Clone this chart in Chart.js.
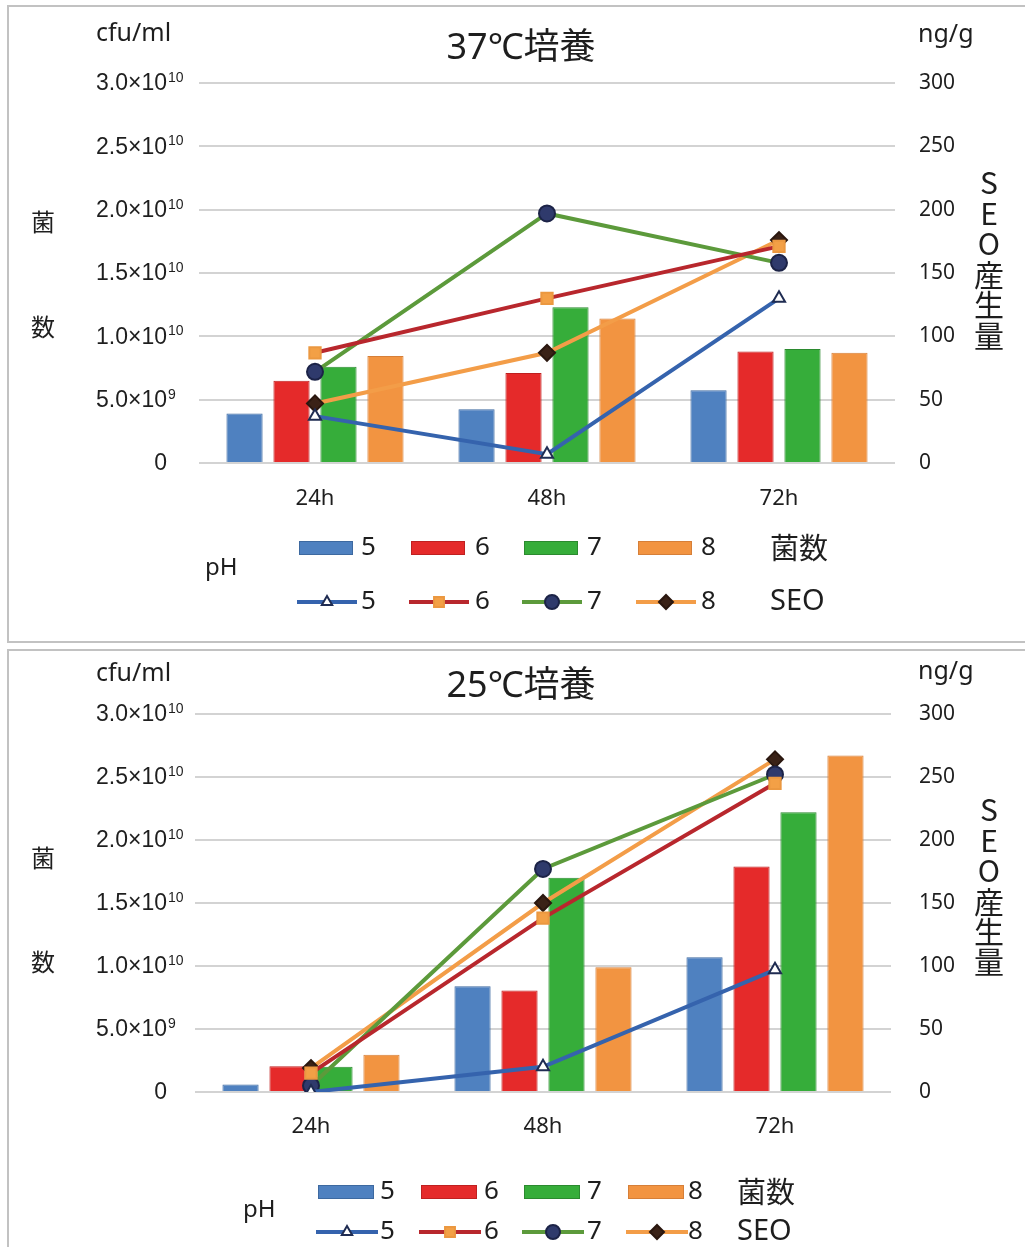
<!DOCTYPE html>
<html>
<head>
<meta charset="utf-8">
<script src="https://cdn.jsdelivr.net/npm/chart.js@4.4.1/dist/chart.umd.min.js"></script>
<style>
  html, body { margin: 0; padding: 0; background: #fff; }
  body { width: 1025px; height: 1247px; position: relative; overflow: hidden; }
  .panel { position: absolute; left: 7px; width: 1040px; border: 2px solid #c2c2c2; box-sizing: border-box; background: #fff; }
  #panelA { top: 5px; height: 638px; }
  #panelB { top: 649px; height: 640px; }
  canvas { position: absolute; left: 0; }
  #chartA { top: 0; }
  #chartB { top: 645px; }
</style>
</head>
<body>
<div class="panel" id="panelA"></div>
<div class="panel" id="panelB"></div>
<canvas id="chartA" width="1025" height="645"></canvas>
<canvas id="chartB" width="1025" height="602"></canvas>
<script>
// ---- data ----
const categories = ['24h', '48h', '72h'];
const phLevels = ['5', '6', '7', '8'];

// cell counts (cfu/ml), 37℃
const cfu37pH5 = [3.9e9, 4.25e9, 5.75e9];
const cfu37pH6 = [6.5e9, 7.1e9, 8.8e9];
const cfu37pH7 = [7.6e9, 12.3e9, 9.0e9];
const cfu37pH8 = [8.45e9, 11.4e9, 8.7e9];
// SEO production (ng/g), 37℃
const seo37pH5 = [37, 7, 130];
const seo37pH6 = [87, 130, 171];
const seo37pH7 = [72, 197, 158];
const seo37pH8 = [47, 87, 176];

// cell counts (cfu/ml), 25℃
const cfu25pH5 = [0.6e9, 8.4e9, 10.7e9];
const cfu25pH6 = [2.05e9, 8.05e9, 17.9e9];
const cfu25pH7 = [2.0e9, 17.0e9, 22.2e9];
const cfu25pH8 = [2.95e9, 9.9e9, 26.7e9];
// SEO production (ng/g), 25℃
const seo25pH5 = [0, 20, 97];
const seo25pH6 = [15, 138, 245];
const seo25pH7 = [5, 177, 252];
const seo25pH8 = [19, 150, 264];

// left axis tick labels: mantissa part and superscript exponent
const cfuTickBase = ['0', '5.0×10', '1.0×10', '1.5×10', '2.0×10', '2.5×10', '3.0×10'];
const cfuTickExp  = ['', '9', '10', '10', '10', '10', '10'];

// ---- styles ----
const barFill   = ['#4f81c0', '#e52a2a', '#36ad3a', '#f29441'];
const barEdge   = ['#3d69a0', '#bf2020', '#2b8a2f', '#d67f38'];
const lineColor = ['#3563ad', '#b8272d', '#5c9a3b', '#f39d48'];
const markStyle = ['triangle', 'rect', 'circle', 'rectRot'];
const markFill  = ['#ffffff', '#f3a046', '#2f3a6c', '#3a2217'];
const markEdge  = ['#1f2c52', '#eb9840', '#1c2347', '#2a170f'];
const markRad   = [7, 8, 8, 8];

const SANS = '"Noto Sans", "Noto Sans CJK JP", sans-serif';
const CJK = '"Noto Sans CJK JP", "Noto Sans", sans-serif';
const TICK = '"Liberation Sans", Arial, sans-serif';
const TXT = '#1e1e1e';

function datasets(cfu, seo) {
  const out = [];
  seo.forEach((vals, i) => out.push({
    type: 'line', label: 'SEO ' + phLevels[i], data: vals, yAxisID: 'y2', order: 0,
    borderColor: lineColor[i], borderWidth: 4, tension: 0,
    pointStyle: markStyle[i], pointRadius: markRad[i], pointBorderWidth: 2,
    pointBackgroundColor: markFill[i], pointBorderColor: markEdge[i]
  }));
  cfu.forEach((vals, i) => out.push({
    type: 'bar', label: '菌数 ' + phLevels[i], data: vals, yAxisID: 'y', order: 1,
    backgroundColor: barFill[i], borderColor: barEdge[i], borderWidth: 1,
    categoryPercentage: 0.81, barPercentage: 0.77
  }));
  return out;
}

// axis titles, title, custom left ticks and legend
const decor = {
  id: 'decor',
  afterDraw(chart, args, o) {
    const ctx = chart.ctx;
    ctx.save();
    ctx.fillStyle = TXT;
    ctx.textBaseline = 'middle';

    // left tick labels with superscript exponents
    const ys = chart.scales.y;
    ctx.font = '23px ' + TICK;
    const refW = ctx.measureText(cfuTickBase[cfuTickBase.length - 1]).width;
    const right = o.tickLeft + refW;
    ys.ticks.forEach((t, i) => {
      const y = ys.getPixelForValue(t.value) + 1;
      ctx.font = '23px ' + TICK;
      ctx.textAlign = 'right';
      ctx.fillText(cfuTickBase[i], right, y);
      if (cfuTickExp[i]) {
        ctx.font = '14px ' + TICK;
        ctx.textAlign = 'left';
        ctx.fillText(cfuTickExp[i], right + 1, y - 6);
      }
    });

    // units and title
    ctx.textAlign = 'left';
    ctx.font = '25px ' + SANS;
    ctx.fillText('cfu/ml', o.cfu[0], o.cfu[1]);
    ctx.fillText('ng/g', o.ng[0], o.ng[1]);
    ctx.textAlign = 'center';
    ctx.font = '36px ' + SANS;
    ctx.fillText(o.title, o.titlePos[0], o.titlePos[1]);

    // left axis caption
    ctx.font = '24px ' + CJK;
    ctx.fillText('菌', 43, o.kin[0]);
    ctx.fillText('数', 43, o.kin[1]);

    // right axis caption, stacked vertically
    ctx.font = '30px ' + CJK;
    ['S', 'E', 'O', '産', '生', '量'].forEach((c, i) => {
      ctx.fillText(c, 989, o.seoTop + i * o.seoStep);
    });

    // legend
    const L = o.legend;
    ctx.textAlign = 'left';
    ctx.font = '24px ' + SANS;
    ctx.fillText('pH', L.ph[0], L.ph[1]);
    for (let i = 0; i < 4; i++) {
      const x = L.rectX[i];
      ctx.fillStyle = barFill[i];
      ctx.strokeStyle = barEdge[i];
      ctx.lineWidth = 1;
      ctx.fillRect(x, L.row1 - 7, L.rectW, 14);
      ctx.strokeRect(x + 0.5, L.row1 - 6.5, L.rectW - 1, 13);

      ctx.strokeStyle = lineColor[i];
      ctx.lineWidth = 4;
      ctx.beginPath();
      ctx.moveTo(x - 2, L.row2);
      ctx.lineTo(x + L.rectW + 4, L.row2);
      ctx.stroke();
      ctx.fillStyle = markFill[i];
      ctx.strokeStyle = markEdge[i];
      ctx.lineWidth = 2;
      Chart.helpers.drawPoint(ctx, { pointStyle: markStyle[i], radius: markRad[i] - 1, borderWidth: 2, rotation: 0 },
        x + L.rectW / 2 + 1, L.row2);

      ctx.fillStyle = TXT;
      ctx.font = '26px ' + SANS;
      ctx.fillText(phLevels[i], L.numX[i], L.row1);
      ctx.fillText(phLevels[i], L.numX[i], L.row2);
    }
    ctx.font = '29px ' + CJK;
    ctx.fillText('菌数', L.catX, L.row1);
    ctx.font = '29px ' + SANS;
    ctx.fillText('SEO', L.catX, L.row2);
    ctx.restore();
  }
};

function build(canvas, cfu, seo, g) {
  const H = canvas.height;
  const xAxisH = 60;
  return new Chart(canvas, {
    type: 'bar',
    data: { labels: categories, datasets: datasets(cfu, seo) },
    options: {
      responsive: false, animation: false, devicePixelRatio: 1,
      layout: { padding: { top: g.top, bottom: H - g.bottom - xAxisH, left: 0, right: 0 } },
      plugins: { legend: { display: false }, tooltip: { enabled: false }, decor: g.decor },
      scales: {
        x: {
          grid: { display: false }, border: { display: false },
          ticks: { color: TXT, font: { family: SANS, size: 22 }, padding: g.xPad },
          afterFit(s) { s.height = xAxisH; }
        },
        y: {
          position: 'left', min: 0, max: 3e10,
          ticks: { stepSize: 5e9, display: false },
          grid: { color: '#d3d3d3', lineWidth: 2, drawTicks: false },
          border: { display: false },
          afterFit(s) { s.width = g.left; }
        },
        y2: {
          position: 'right', min: 0, max: 300,
          ticks: { stepSize: 50, color: TXT, font: { family: SANS, size: 21 }, padding: g.rPad },
          grid: { display: false, drawTicks: false }, border: { display: false },
          afterFit(s) { s.width = 1025 - g.right; }
        }
      }
    },
    plugins: [decor]
  });
}

build(document.getElementById('chartA'),
  [cfu37pH5, cfu37pH6, cfu37pH7, cfu37pH8],
  [seo37pH5, seo37pH6, seo37pH7, seo37pH8],
  { top: 83, bottom: 463, left: 199, right: 895, xPad: 15, rPad: 24,
    decor: {
      tickLeft: 96, title: '37℃培養', titlePos: [521, 49], cfu: [96, 34], ng: [918, 35],
      kin: [222, 327], seoTop: 183, seoStep: 30.5,
      legend: { row1: 548, row2: 602, rectX: [299, 411, 524, 638], rectW: 54,
                numX: [361, 475, 587, 701], catX: 770, ph: [205, 568] }
    } });

build(document.getElementById('chartB'),
  [cfu25pH5, cfu25pH6, cfu25pH7, cfu25pH8],
  [seo25pH5, seo25pH6, seo25pH7, seo25pH8],
  { top: 69, bottom: 447, left: 195, right: 891, xPad: 14, rPad: 28,
    decor: {
      tickLeft: 96, title: '25℃培養', titlePos: [521, 42], cfu: [96, 29], ng: [918, 27],
      kin: [213, 317], seoTop: 165, seoStep: 30.4,
      legend: { row1: 547, row2: 587, rectX: [318, 421, 524, 628], rectW: 56,
                numX: [380, 484, 587, 688], catX: 737, ph: [243, 565] }
    } });
</script>
</body>
</html>
